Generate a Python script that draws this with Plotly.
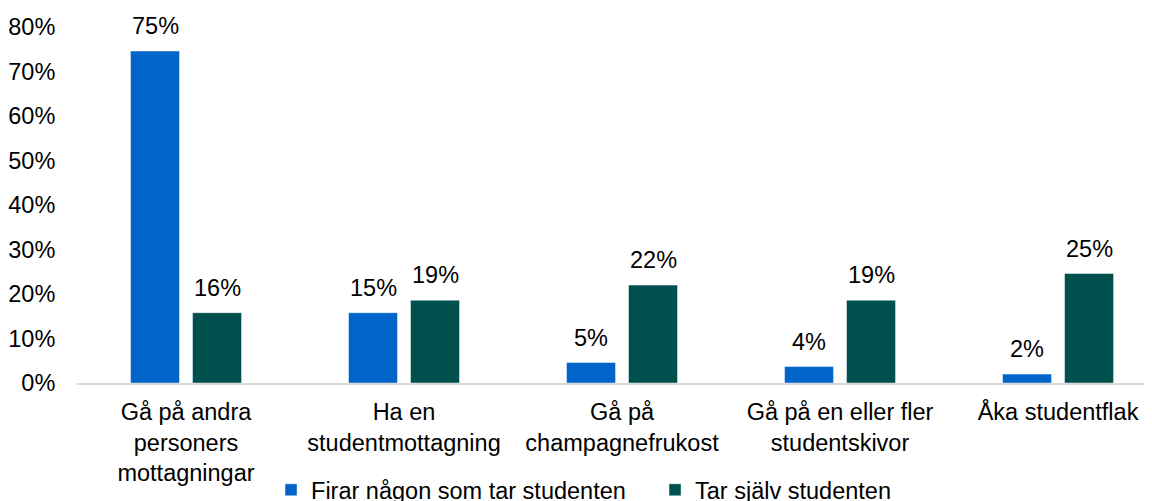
import plotly.graph_objects as go

categories = ["Gå på andra<br>personers<br>mottagningar", "Ha en<br>studentmottagning",
              "Gå på<br>champagnefrukost", "Gå på en eller fler<br>studentskivor", "Åka studentflak"]
series_names = ["Firar någon som tar studenten", "Tar själv studenten"]
firar = [74.6, 15.8, 4.6, 3.7, 2.0]
tar_sjalv = [15.8, 18.6, 22.0, 18.6, 24.6]
label_firar = ["75%", "15%", "5%", "4%", "2%"]
label_tar = ["16%", "19%", "22%", "19%", "25%"]
y_ticks = [0, 10, 20, 30, 40, 50, 60, 70, 80]
y_ticktext = ["0%", "10%", "20%", "30%", "40%", "50%", "60%", "70%", "80%"]

colors = ["#0064C8", "#00504E"]
FONT = "Liberation Sans, Arial, sans-serif"
FS = 23.5

fig = go.Figure()
fig.add_trace(go.Bar(x=list(range(5)), y=firar, name=series_names[0], marker_color=colors[0],
                     marker_line=dict(color="rgba(255,255,255,0.45)", width=1)))
fig.add_trace(go.Bar(x=list(range(5)), y=tar_sjalv, name=series_names[1], marker_color=colors[1],
                     marker_line=dict(color="rgba(255,255,255,0.45)", width=1)))

annotations = []
for vals, labs, shift in [(firar, label_firar, -31), (tar_sjalv, label_tar, 31)]:
    for i, (v, t) in enumerate(zip(vals, labs)):
        annotations.append(dict(x=i, y=v, text=t, showarrow=False, xshift=shift, yshift=25,
                                yanchor="middle", xanchor="center",
                                font=dict(family=FONT, size=FS, color="#000000")))

# the page body adds an 8px offset, so the figure is sized to fill the rest of the window
fig.update_layout(
    width=1144, height=493,
    margin=dict(l=69, r=0, t=19, b=117.7, autoexpand=False),
    paper_bgcolor="white", plot_bgcolor="white",
    barmode="group", bargap=0.431, bargroupgap=0.21,
    font=dict(family=FONT, size=FS, color="#000000"),
    annotations=annotations,
    showlegend=True,
    legend=dict(orientation="h", x=0.1805, xanchor="left", yref="container", y=0.0223, yanchor="middle",
                entrywidth=339, entrywidthmode="pixels",
                font=dict(family=FONT, size=FS), traceorder="normal"),
    xaxis=dict(range=[-0.5, 4.431], tickmode="array", tickvals=list(range(5)), ticktext=categories,
               showline=True, linecolor="#D9D9D9", linewidth=2, showgrid=False, zeroline=False,
               ticks="outside", ticklen=7, tickcolor="rgba(0,0,0,0)", fixedrange=True),
    yaxis=dict(range=[0, 80], tickmode="array", tickvals=y_ticks, ticktext=y_ticktext,
               showgrid=False, zeroline=False, showline=False,
               ticks="outside", ticklen=16, tickcolor="rgba(0,0,0,0)", fixedrange=True),
)

fig.write_html("out.html", config={"displayModeBar": False})
